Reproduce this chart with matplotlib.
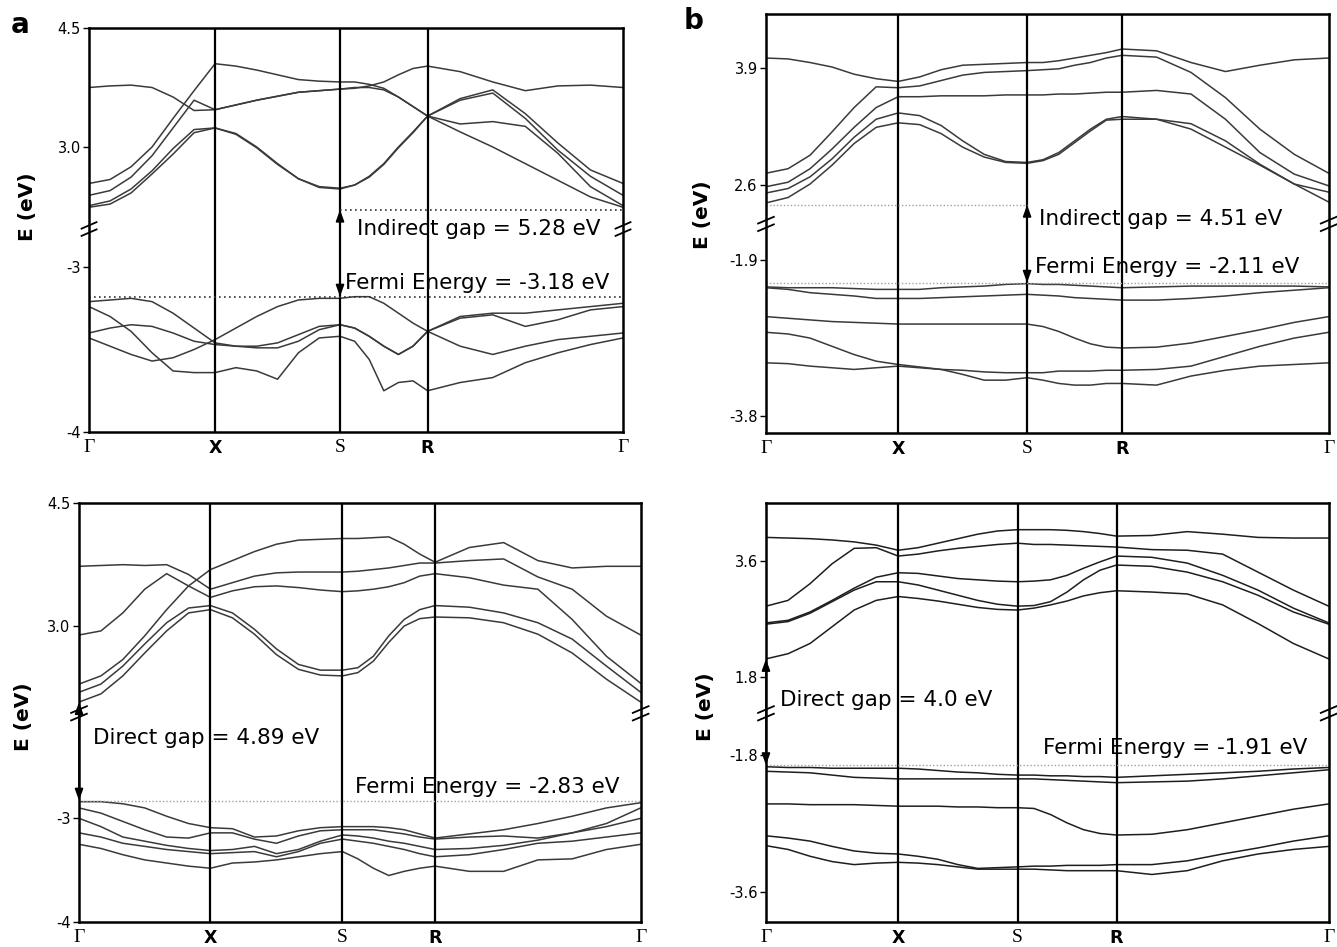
import numpy as np
import matplotlib.pyplot as plt

plt.rcParams['font.family'] = ['DejaVu Sans']

# k-path: Gamma-X-S-R-Gamma, band energies read at 6 steps per segment
path_labels = ['Γ', 'X', 'S', 'R', 'Γ']
path_steps = np.linspace(0, 4, 25)

# position of the high-symmetry points along each panel (fraction of path)
knodes_a_top = [0.0, 0.236, 0.470, 0.634, 1.0]
knodes_b_top = [0.0, 0.235, 0.464, 0.633, 1.0]
knodes_a_bot = [0.0, 0.234, 0.469, 0.634, 1.0]
knodes_b_bot = [0.0, 0.235, 0.447, 0.623, 1.0]

# ---------------- panel a, top (eV) ----------------
a_top_cond = [
    [3.75, 3.77, 3.78, 3.75, 3.63, 3.46, 3.47, 3.53, 3.59, 3.64, 3.69, 3.71, 3.73,
     3.74, 3.77, 3.82, 3.91, 3.99, 4.02, 3.95, 3.82, 3.71, 3.77, 3.78, 3.75],
    [2.54, 2.59, 2.75, 3.00, 3.36, 3.71, 4.05, 4.02, 3.97, 3.91, 3.85, 3.83, 3.82,
     3.82, 3.79, 3.74, 3.63, 3.51, 3.39, 3.61, 3.72, 3.42, 3.05, 2.71, 2.54],
    [2.39, 2.45, 2.62, 2.89, 3.24, 3.59, 3.47, 3.53, 3.59, 3.64, 3.69, 3.71, 3.73,
     3.75, 3.75, 3.72, 3.63, 3.51, 3.39, 3.59, 3.68, 3.36, 2.96, 2.63, 2.39],
    [2.26, 2.32, 2.47, 2.70, 2.98, 3.22, 3.24, 3.17, 3.00, 2.79, 2.60, 2.50, 2.48,
     2.52, 2.63, 2.79, 3.00, 3.19, 3.39, 3.29, 3.32, 3.26, 2.92, 2.50, 2.26],
    [2.24, 2.28, 2.42, 2.66, 2.91, 3.18, 3.24, 3.16, 2.99, 2.78, 2.60, 2.49, 2.47,
     2.52, 2.62, 2.78, 2.99, 3.18, 3.39, 3.19, 3.00, 2.79, 2.58, 2.37, 2.24],
]
a_top_val = [
    [-3.43, -3.48, -3.53, -3.57, -3.55, -3.50, -3.44, -3.37, -3.30, -3.24, -3.20, -3.19, -3.19,
     -3.18, -3.18, -3.22, -3.28, -3.34, -3.39, -3.30, -3.28, -3.28, -3.26, -3.24, -3.22],
    [-3.21, -3.20, -3.19, -3.21, -3.28, -3.37, -3.46, -3.48, -3.49, -3.49, -3.45, -3.38, -3.35,
     -3.37, -3.42, -3.48, -3.53, -3.48, -3.39, -3.31, -3.29, -3.36, -3.32, -3.26, -3.24],
    [-3.24, -3.30, -3.39, -3.52, -3.63, -3.64, -3.64, -3.61, -3.63, -3.68, -3.52, -3.43, -3.42,
     -3.45, -3.56, -3.75, -3.70, -3.69, -3.75, -3.70, -3.67, -3.58, -3.52, -3.47, -3.43],
    [-3.40, -3.37, -3.35, -3.36, -3.40, -3.45, -3.47, -3.48, -3.48, -3.46, -3.41, -3.36, -3.35,
     -3.37, -3.42, -3.48, -3.53, -3.48, -3.39, -3.48, -3.53, -3.48, -3.44, -3.42, -3.40],
]

# ---------------- panel b, top ----------------
b_top_cond = [
    [4.01, 4.00, 3.96, 3.91, 3.83, 3.78, 3.75, 3.80, 3.88, 3.93, 3.94, 3.95, 3.96,
     3.96, 3.98, 4.01, 4.04, 4.07, 4.11, 4.09, 3.96, 3.86, 3.93, 3.99, 4.01],
    [2.73, 2.78, 2.93, 3.19, 3.46, 3.69, 3.68, 3.70, 3.76, 3.82, 3.85, 3.86, 3.87,
     3.88, 3.89, 3.93, 3.96, 4.01, 4.04, 4.02, 3.85, 3.57, 3.22, 2.94, 2.73],
    [2.58, 2.63, 2.78, 3.00, 3.24, 3.46, 3.58, 3.58, 3.59, 3.59, 3.59, 3.60, 3.60,
     3.60, 3.61, 3.61, 3.62, 3.63, 3.63, 3.65, 3.61, 3.33, 2.96, 2.72, 2.59],
    [2.51, 2.56, 2.69, 2.89, 3.13, 3.33, 3.40, 3.37, 3.26, 3.09, 2.94, 2.86, 2.85,
     2.88, 2.96, 3.09, 3.22, 3.33, 3.36, 3.33, 3.22, 3.02, 2.82, 2.61, 2.52],
    [2.40, 2.46, 2.61, 2.82, 3.06, 3.24, 3.29, 3.27, 3.17, 3.02, 2.91, 2.85, 2.84,
     2.87, 2.94, 3.07, 3.20, 3.32, 3.33, 3.33, 3.28, 3.09, 2.83, 2.61, 2.41],
]
b_top_val = [
    [-2.23, -2.24, -2.24, -2.24, -2.25, -2.26, -2.26, -2.26, -2.24, -2.23, -2.22, -2.20, -2.19,
     -2.20, -2.20, -2.21, -2.22, -2.23, -2.24, -2.23, -2.22, -2.22, -2.22, -2.22, -2.23],
    [-2.24, -2.26, -2.30, -2.32, -2.34, -2.37, -2.37, -2.37, -2.36, -2.35, -2.34, -2.33, -2.32,
     -2.33, -2.34, -2.36, -2.37, -2.38, -2.39, -2.39, -2.37, -2.34, -2.30, -2.27, -2.24],
    [-2.59, -2.61, -2.63, -2.65, -2.66, -2.67, -2.68, -2.68, -2.68, -2.68, -2.68, -2.68, -2.68,
     -2.71, -2.77, -2.85, -2.92, -2.96, -2.97, -2.96, -2.91, -2.83, -2.75, -2.66, -2.59],
    [-2.78, -2.80, -2.85, -2.95, -3.05, -3.13, -3.17, -3.20, -3.23, -3.29, -3.36, -3.36, -3.33,
     -3.36, -3.40, -3.42, -3.42, -3.40, -3.40, -3.42, -3.31, -3.24, -3.19, -3.17, -3.15],
    [-3.15, -3.16, -3.19, -3.21, -3.23, -3.21, -3.19, -3.21, -3.23, -3.24, -3.26, -3.27, -3.27,
     -3.27, -3.25, -3.25, -3.25, -3.24, -3.24, -3.23, -3.19, -3.07, -2.95, -2.85, -2.78],
]

# ---------------- panel a, bottom ----------------
a_bot_cond = [
    [3.73, 3.74, 3.75, 3.74, 3.75, 3.63, 3.45, 3.53, 3.61, 3.65, 3.66, 3.66, 3.66,
     3.67, 3.69, 3.71, 3.74, 3.77, 3.77, 3.80, 3.82, 3.60, 3.45, 3.12, 2.89],
    [2.89, 2.94, 3.16, 3.45, 3.64, 3.49, 3.35, 3.43, 3.48, 3.49, 3.47, 3.44, 3.42,
     3.43, 3.45, 3.48, 3.53, 3.61, 3.64, 3.59, 3.50, 3.45, 3.08, 2.63, 2.30],
    [2.29, 2.39, 2.59, 2.88, 3.20, 3.49, 3.69, 3.80, 3.91, 4.00, 4.05, 4.06, 4.07,
     4.07, 4.08, 4.09, 4.00, 3.88, 3.78, 3.96, 4.02, 3.80, 3.71, 3.73, 3.73],
    [2.19, 2.29, 2.51, 2.78, 3.04, 3.22, 3.25, 3.16, 2.96, 2.72, 2.53, 2.46, 2.46,
     2.49, 2.63, 2.88, 3.08, 3.20, 3.25, 3.23, 3.16, 3.04, 2.84, 2.51, 2.19],
    [2.07, 2.17, 2.39, 2.67, 2.94, 3.16, 3.20, 3.10, 2.90, 2.65, 2.47, 2.40, 2.39,
     2.43, 2.57, 2.80, 3.00, 3.09, 3.11, 3.10, 3.04, 2.90, 2.67, 2.35, 2.07],
]
a_bot_val = [
    [-2.84, -2.84, -2.86, -2.90, -2.98, -3.05, -3.09, -3.10, -3.18, -3.17, -3.12, -3.09, -3.08,
     -3.08, -3.08, -3.09, -3.11, -3.15, -3.19, -3.15, -3.11, -3.05, -2.98, -2.90, -2.85],
    [-2.90, -2.95, -3.03, -3.11, -3.18, -3.19, -3.14, -3.14, -3.20, -3.24, -3.17, -3.12, -3.11,
     -3.11, -3.11, -3.13, -3.15, -3.18, -3.20, -3.18, -3.17, -3.19, -3.14, -3.05, -2.90],
    [-3.00, -3.08, -3.18, -3.22, -3.26, -3.29, -3.31, -3.30, -3.27, -3.34, -3.30, -3.22, -3.16,
     -3.17, -3.19, -3.22, -3.24, -3.27, -3.30, -3.29, -3.26, -3.21, -3.14, -3.08, -3.00],
    [-3.14, -3.18, -3.24, -3.27, -3.30, -3.32, -3.34, -3.33, -3.32, -3.37, -3.32, -3.24, -3.20,
     -3.22, -3.24, -3.27, -3.30, -3.34, -3.37, -3.35, -3.30, -3.24, -3.22, -3.18, -3.14],
    [-3.25, -3.29, -3.35, -3.40, -3.43, -3.46, -3.48, -3.43, -3.42, -3.40, -3.37, -3.34, -3.32,
     -3.39, -3.48, -3.55, -3.51, -3.48, -3.46, -3.51, -3.51, -3.40, -3.39, -3.30, -3.25],
]

# ---------------- panel b, bottom ----------------
b_bot_cond = [
    [3.97, 3.96, 3.95, 3.93, 3.90, 3.85, 3.77, 3.81, 3.88, 3.95, 4.02, 4.07, 4.09,
     4.09, 4.09, 4.08, 4.06, 4.03, 3.99, 4.00, 4.06, 4.02, 3.97, 3.96, 3.96],
    [2.90, 2.99, 3.25, 3.56, 3.80, 3.81, 3.68, 3.71, 3.76, 3.80, 3.83, 3.86, 3.88,
     3.86, 3.86, 3.85, 3.84, 3.83, 3.82, 3.78, 3.77, 3.71, 3.43, 3.15, 2.90],
    [2.64, 2.68, 2.81, 2.99, 3.18, 3.35, 3.42, 3.41, 3.37, 3.33, 3.31, 3.29, 3.28,
     3.29, 3.31, 3.38, 3.49, 3.59, 3.68, 3.66, 3.57, 3.38, 3.15, 2.87, 2.64],
    [2.62, 2.66, 2.79, 2.97, 3.15, 3.28, 3.28, 3.23, 3.15, 3.07, 2.99, 2.93, 2.90,
     2.91, 2.97, 3.12, 3.31, 3.46, 3.54, 3.52, 3.43, 3.28, 3.07, 2.81, 2.62],
    [2.08, 2.16, 2.32, 2.58, 2.84, 2.99, 3.05, 3.02, 2.98, 2.93, 2.88, 2.85, 2.84,
     2.87, 2.92, 2.98, 3.06, 3.11, 3.14, 3.12, 3.09, 2.92, 2.63, 2.32, 2.08],
]
b_bot_val = [
    [-1.95, -1.96, -1.96, -1.97, -1.97, -1.97, -1.97, -1.98, -2.00, -2.02, -2.03, -2.05, -2.06,
     -2.06, -2.07, -2.07, -2.08, -2.08, -2.09, -2.07, -2.05, -2.03, -2.01, -1.98, -1.96],
    [-2.01, -2.02, -2.03, -2.06, -2.09, -2.10, -2.11, -2.11, -2.11, -2.11, -2.11, -2.11, -2.11,
     -2.11, -2.12, -2.13, -2.14, -2.15, -2.16, -2.15, -2.14, -2.11, -2.07, -2.03, -1.99],
    [-2.44, -2.44, -2.45, -2.45, -2.45, -2.46, -2.47, -2.47, -2.47, -2.48, -2.48, -2.49, -2.49,
     -2.50, -2.58, -2.69, -2.78, -2.83, -2.85, -2.84, -2.78, -2.69, -2.60, -2.51, -2.44],
    [-2.86, -2.89, -2.93, -3.00, -3.06, -3.09, -3.10, -3.13, -3.17, -3.24, -3.29, -3.28, -3.27,
     -3.26, -3.26, -3.25, -3.25, -3.25, -3.24, -3.24, -3.19, -3.10, -3.02, -2.93, -2.86],
    [-2.99, -3.04, -3.13, -3.20, -3.24, -3.22, -3.21, -3.22, -3.24, -3.27, -3.30, -3.30, -3.30,
     -3.30, -3.31, -3.32, -3.32, -3.32, -3.32, -3.37, -3.32, -3.19, -3.10, -3.04, -3.00],
]

# Fermi levels / conduction band minima as drawn (eV)
ef_a_top, cbm_a_top = -3.18, 2.21
ef_b_top, cbm_b_top = -2.18, 2.38
ef_a_bot, cbm_a_bot = -2.83, 2.07
ef_b_bot, cbm_b_bot = -1.93, 2.08

fig = plt.figure(figsize=(13.37, 9.47), dpi=100)


def band_axes(rect, knodes, bands, scale, ticks, ticklabels, color):
    ax = fig.add_axes(rect)
    e_min, e_max, e_lo, e_hi, frac = scale
    pe = [e_min, e_lo, e_hi, e_max]
    pu = [0.0, frac, frac + 1e-4, 1.0]
    # broken energy axis: gap between e_lo and e_hi is squeezed out
    ax.set_yscale('function', functions=(lambda e: np.interp(e, pe, pu),
                                        lambda u: np.interp(u, pu, pe)))
    ax.set_ylim(e_min, e_max)
    ax.set_xlim(0, 1)
    k = np.interp(path_steps, range(5), knodes)
    for band in bands:
        ax.plot(k, band, color=color, lw=1.1)
    for kx in knodes[1:4]:
        ax.axvline(kx, color='k', lw=1.6)
    ax.set_yticks(ticks)
    ax.set_yticklabels(ticklabels)
    ax.yaxis.set_minor_locator(plt.NullLocator())
    ax.tick_params(axis='y', direction='out', length=4, width=1, labelsize=10.5, pad=2)
    ax.set_xticks(knodes)
    ax.set_xticklabels(path_labels)
    ax.tick_params(axis='x', length=0, pad=5)
    for lab in ax.get_xticklabels():
        if lab.get_text() in ('Γ', 'S'):
            lab.set_fontfamily('Liberation Serif')
            lab.set_fontsize(14)
        else:
            lab.set_fontweight('bold')
            lab.set_fontsize(12.5)
    for sp in ax.spines.values():
        sp.set_linewidth(1.8)
    # "//" break marks on both vertical axes
    for xb in (0, 1):
        for dy in (-0.009, 0.009):
            ax.plot([xb - 0.014, xb + 0.014], [frac + dy - 0.008, frac + dy + 0.008],
                    transform=ax.transAxes, color='k', lw=1.3, clip_on=False)
    return ax


def gap_arrow(ax, kx, e1, e2):
    ax.annotate('', xy=(kx, e1), xytext=(kx, e2),
                arrowprops=dict(arrowstyle='<|-|>,head_length=0.7,head_width=0.25',
                                color='k', lw=1.2, shrinkA=0, shrinkB=0))


txt = dict(fontsize=15.5, va='center', ha='left')

# ---- a (top) ----
ax1 = band_axes([0.0666, 0.5438, 0.3994, 0.4266], knodes_a_top, a_top_cond + a_top_val,
                (-4.0, 4.5, -2.77, 1.966, 0.5025), [-4, -3, 3.0, 4.5],
                ['-4', '-3', '3.0', '4.5'], '#3a3a3a')
ax1.plot([0, 1], [ef_a_top, ef_a_top], ls=(0, (1, 2)), color='#333333', lw=1.2)
ax1.plot([knodes_a_top[2], 1], [cbm_a_top, cbm_a_top], ls=(0, (1, 2)), color='#333333', lw=1.2)
gap_arrow(ax1, knodes_a_top[2], cbm_a_top, ef_a_top)
ax1.text(0.502, 0.502, 'Indirect gap = 5.28 eV', transform=ax1.transAxes, **txt)
ax1.text(0.479, 0.369, 'Fermi Energy = -3.18 eV', transform=ax1.transAxes, **txt)
ax1.set_ylabel('E (eV)', fontsize=14.5, fontweight='bold')
ax1.yaxis.set_label_coords(-0.097, 0.559)

# ---- b (top) ----
ax2 = band_axes([0.5729, 0.5428, 0.4209, 0.4425], knodes_b_top, b_top_cond + b_top_val,
                (-4.0, 4.5, -1.467, 2.167, 0.4988), [-3.8, -1.9, 2.6, 3.9],
                ['-3.8', '-1.9', '2.6', '3.9'], '#3a3a3a')
ax2.plot([0, 1], [ef_b_top, ef_b_top], ls=(0, (1, 1.5)), color='#a0a0a0', lw=1.0)
ax2.plot([0, knodes_b_top[2]], [cbm_b_top, cbm_b_top], ls=(0, (1, 1.5)), color='#a0a0a0', lw=1.0)
gap_arrow(ax2, knodes_b_top[2], cbm_b_top, ef_b_top)
ax2.text(0.485, 0.511, 'Indirect gap = 4.51 eV', transform=ax2.transAxes, **txt)
ax2.text(0.478, 0.396, 'Fermi Energy = -2.11 eV', transform=ax2.transAxes, **txt)
ax2.set_ylabel('E (eV)', fontsize=14.5, fontweight='bold')
ax2.yaxis.set_label_coords(-0.096, 0.520)

# ---- a (bottom) ----
ax3 = band_axes([0.0591, 0.0261, 0.4201, 0.4424], knodes_a_bot, a_bot_cond + a_bot_val,
                (-4.0, 4.5, -1.99, 1.933, 0.4988), [-4, -3, 3.0, 4.5],
                ['-4', '-3', '3.0', '4.5'], '#3a3a3a')
ax3.plot([0, 1], [ef_a_bot, ef_a_bot], ls=(0, (1, 1.5)), color='#a0a0a0', lw=1.0)
gap_arrow(ax3, 0.0, cbm_a_bot, ef_a_bot)
ax3.text(0.025, 0.440, 'Direct gap = 4.89 eV', transform=ax3.transAxes, **txt)
ax3.text(0.491, 0.323, 'Fermi Energy = -2.83 eV', transform=ax3.transAxes, **txt)
ax3.set_ylabel('E (eV)', fontsize=14.5, fontweight='bold')
ax3.yaxis.set_label_coords(-0.082, 0.490)

# ---- b (bottom) ----
ax4 = band_axes([0.5729, 0.0261, 0.4209, 0.4424], knodes_b_bot, b_bot_cond + b_bot_val,
                (-4.0, 4.5, -1.246, 1.234, 0.4988), [-3.6, -1.8, 1.8, 3.6],
                ['-3.6', '-1.8', '1.8', '3.6'], '#1e1e1e')
ax4.plot([0, 1], [ef_b_bot, ef_b_bot], ls=(0, (1, 1.5)), color='#a0a0a0', lw=1.0)
gap_arrow(ax4, 0.0, cbm_b_bot, ef_b_bot)
ax4.text(0.025, 0.531, 'Direct gap = 4.0 eV', transform=ax4.transAxes, **txt)
ax4.text(0.492, 0.416, 'Fermi Energy = -1.91 eV', transform=ax4.transAxes, **txt)
ax4.set_ylabel('E (eV)', fontsize=14.5, fontweight='bold')
ax4.yaxis.set_label_coords(-0.091, 0.514)

fig.text(0.008, 0.974, 'a', fontsize=20, fontweight='bold', va='center')
fig.text(0.511, 0.978, 'b', fontsize=20, fontweight='bold', va='center')

fig.savefig('out.png', dpi=100)
